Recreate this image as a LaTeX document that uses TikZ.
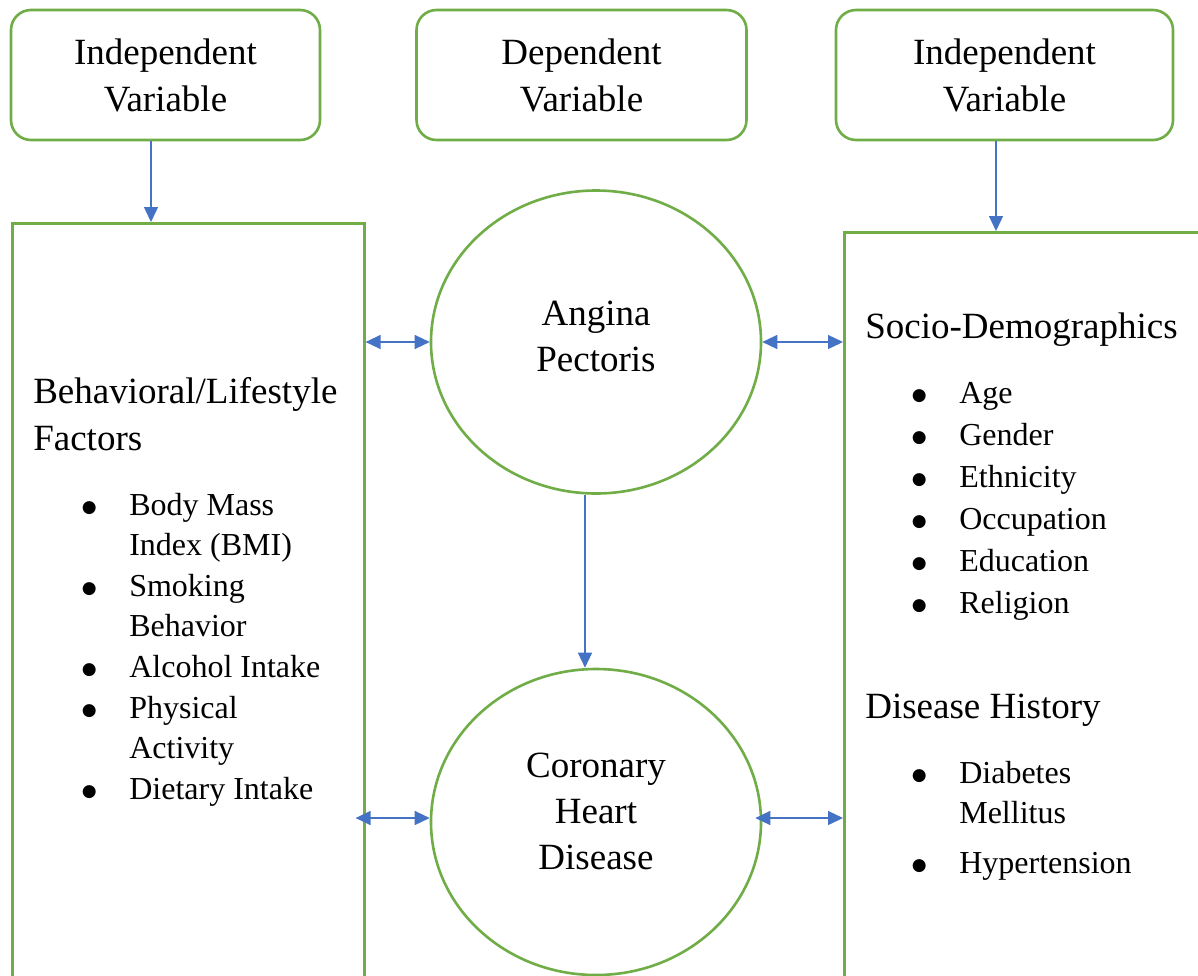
\documentclass[tikz,border=0pt]{standalone}
\usepackage{fontspec}
\setmainfont{Liberation Serif}
\newfontfamily\dotFont{DejaVu Sans}
\usepackage{tikz}
\usetikzlibrary{positioning,shapes,arrows.meta}
\definecolor{boxGreen}{HTML}{70AD47}
\definecolor{arrowBlue}{HTML}{4472C4}
\newcommand*{\listDot}{\makebox[80pt]{\raisebox{3pt}{\dotFont\fontsize{17}{20}\selectfont ●}}}

\begin{document}
\begin{tikzpicture}[x=1pt, y=-1pt, line width=2.6pt, >={Triangle[length=15pt,width=14pt]},
    varBox/.style={draw=boxGreen, rounded corners=20pt, minimum height=130pt, align=center, font=\fontsize{37}{47}\selectfont},
    setBox/.style={draw=boxGreen, rectangle, anchor=north west, inner sep=0pt},
    outcome/.style={draw=boxGreen, ellipse, minimum width=330pt, align=center, font=\fontsize{37}{46}\selectfont},
    head/.style={anchor=base west, inner sep=0pt, align=left, font=\fontsize{37}{47}\selectfont},
    list/.style={anchor=base west, inner sep=0pt, font=\fontsize{32}{40}\selectfont},
    link/.style={draw=arrowBlue, line width=1.3pt}]
    \useasboundingbox[fill=white] (0,0) rectangle (1198,975);

    \node[varBox, minimum width=309pt] (indLeft) at (165.5,75) {Independent\\Variable};
    \node[varBox, minimum width=330pt] (depMid) at (581.5,75) {Dependent\\Variable};
    \node[varBox, minimum width=337pt] (indRight) at (1004.5,75) {Independent\\Variable};

    \node[setBox, minimum width=352pt, minimum height=780pt] (lifeSet) at (11,222) {};
    \node[setBox, minimum width=370pt, minimum height=770pt] (socioSet) at (843,231) {};

    \node[outcome, minimum height=303pt, text depth=12pt] (angina) at (596,342) {Angina\\Pectoris};
    \node[outcome, minimum height=306pt, text depth=22pt] (chd) at (596,822) {Coronary\\Heart\\Disease};

    % left set
    \node[head] (lifeLabel) at (32,450) {Behavioral/Lifestyle\\Factors};
    \node[list] (lifeList) at (48,515) {\begin{tabular}[t]{@{}l@{}l@{}}
        \listDot & Body Mass\\ & Index (BMI)\\[1pt]
        \listDot & Smoking\\ & Behavior\\[1pt]
        \listDot & Alcohol Intake\\[1pt]
        \listDot & Physical\\ & Activity\\[1pt]
        \listDot & Dietary Intake
    \end{tabular}};

    % right set
    \node[head] (socioLabel) at (864,338) {Socio-Demographics};
    \node[list] (socioList) at (878,403) {\begin{tabular}[t]{@{}l@{}l@{}}
        \listDot & Age\\[2pt]
        \listDot & Gender\\[2pt]
        \listDot & Ethnicity\\[2pt]
        \listDot & Occupation\\[2pt]
        \listDot & Education\\[2pt]
        \listDot & Religion
    \end{tabular}};
    \node[head] (diseaseLabel) at (864,718) {Disease History};
    \node[list] (diseaseList) at (878,783) {\begin{tabular}[t]{@{}l@{}l@{}}
        \listDot & Diabetes\\ & Mellitus\\[10pt]
        \listDot & Hypertension
    \end{tabular}};

    \draw[link, ->] ([xshift=-14.5pt]indLeft.south) -- ([xshift=-14.5pt]indLeft.south |- lifeSet.north);
    \draw[link, ->] ([xshift=-8.5pt]indRight.south) -- ([xshift=-8.5pt]indRight.south |- socioSet.north);
    \draw[link, <->] (lifeSet.east |- angina.west) -- (angina.west);
    \draw[link, <->] (angina.east) -- (angina.east -| socioSet.west);
    \draw[link, ->] ([xshift=-11pt]angina.south) -- ([xshift=-11pt]chd.north);
    \draw[link, <->, shorten <=-10pt] ([yshift=4pt]chd.west -| lifeSet.east) -- ([yshift=4pt]chd.west);
    \draw[link, <->, shorten <=-7pt] ([yshift=4pt]chd.east) -- ([yshift=4pt]chd.east -| socioSet.west);
\end{tikzpicture}
\end{document}
